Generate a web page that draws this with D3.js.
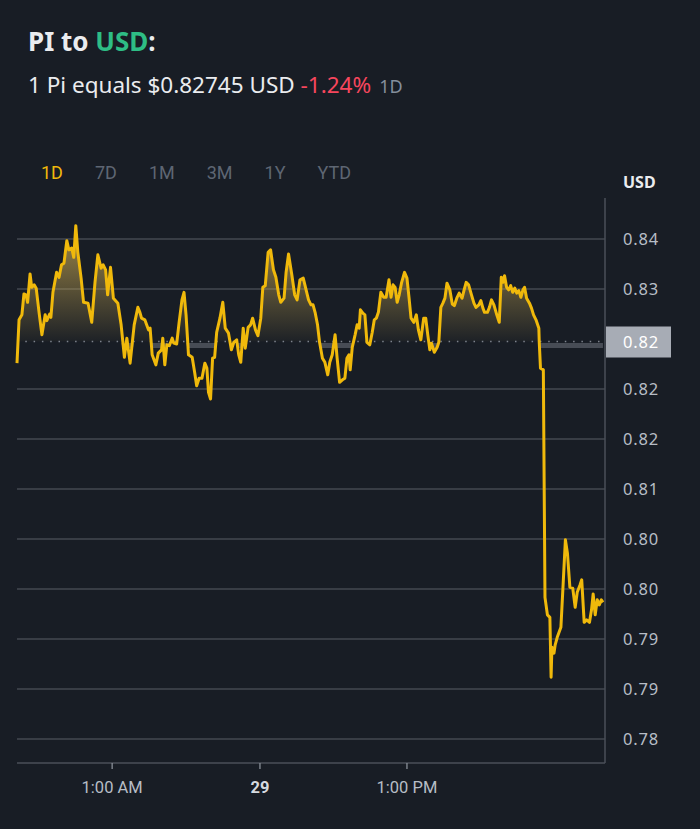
<!DOCTYPE html>
<meta charset="utf-8">
<script src="https://d3js.org/d3.v7.min.js"></script>
<style>
body { margin:0; background:#181d25; overflow:hidden; }
svg { display:block; font-family:'Noto Sans', sans-serif; }
</style>
<svg width="700" height="829"></svg>
<script>
// minutes since start of the 1D window, and PI price in USD
var minutes = [0,5,12,17,22,26,32,36,42,47,54,61,69,73,80,83,88,97,103,109,115,122,127,134,139,144,149,157,163,174,
  183,191,198,206,211,217,222,229,236,247,255,263,269,277,287,296,301,305,313,322,326,331,340,346,354,357,362,367,373,380,
  384,391,397,404,409,414,420,429,435,440,446,453,460,465,469,474,479,484,489,497,504,510,518,525,531,538,543,548,554,559,
  566,572,577,584,590,597,602,608,615,621,628,634,641,646,654,659,665,673,680,686,693,701,708,714,720,725,730,736,741,748,
  754,761,766,772,779,784,790,797,803,808,813,816,821,828,833,838,841,847,852,857,864,870,875,880,885,891,898,904,911,916,
  921,926,931,936,942,949,955,960,965,972,978,983,989,996,1001,1006,1011,1015,1022,1029,1033,1038,1043,1048,1053,1060,1066,1071,1077,1083,
  1090,1095,1100,1106,1113,1119,1124,1131,1136,1141,1145,1152,1157,1162,1168,1175,1181,1186,1190,1194,1199,1204,1209,1214,1219,1224,1229,1234,1239,1243,
  1248,1255,1260,1265,1271,1278,1279,1282,1289,1293,1299,1305,1308,1310,1315,1318,1323,1332,1338,1343,1348,1354,1361,1367,1372,1379,1383,1389,1395,1402,
  1407,1411,1416,1421,1426,1431,1435];
var prices = [0.8256,0.8308,0.8314,0.8339,0.8338,0.8329,0.8363,0.8347,0.8350,0.8346,0.8317,0.8290,0.8314,0.8307,0.8315,0.8311,0.8341,0.8365,0.8359,0.8374,0.8376,0.8403,0.8392,0.8394,0.8383,0.8421,0.8389,0.8358,0.8329,0.8328,
  0.8305,0.8353,0.8386,0.8370,0.8374,0.8368,0.8338,0.8371,0.8334,0.8328,0.8302,0.8263,0.8286,0.8256,0.8302,0.8323,0.8317,0.8310,0.8308,0.8296,0.8298,0.8266,0.8254,0.8268,0.8272,0.8286,0.8254,0.8278,0.8277,0.8286,
  0.8280,0.8279,0.8305,0.8332,0.8341,0.8314,0.8266,0.8263,0.8245,0.8229,0.8238,0.8238,0.8256,0.8250,0.8221,0.8213,0.8262,0.8263,0.8293,0.8310,0.8329,0.8298,0.8292,0.8272,0.8281,0.8284,0.8266,0.8257,0.8298,0.8274,
  0.8299,0.8302,0.8310,0.8296,0.8289,0.8310,0.8347,0.8349,0.8389,0.8392,0.8368,0.8359,0.8338,0.8329,0.8334,0.8365,0.8387,0.8362,0.8338,0.8332,0.8356,0.8358,0.8344,0.8332,0.8326,0.8326,0.8317,0.8302,0.8281,0.8262,
  0.8257,0.8242,0.8257,0.8266,0.8290,0.8262,0.8233,0.8236,0.8238,0.8262,0.8266,0.8248,0.8275,0.8290,0.8302,0.8298,0.8320,0.8316,0.8314,0.8281,0.8278,0.8293,0.8308,0.8310,0.8317,0.8341,0.8335,0.8335,0.8356,0.8335,
  0.8350,0.8347,0.8329,0.8338,0.8353,0.8365,0.8358,0.8335,0.8310,0.8305,0.8314,0.8296,0.8284,0.8310,0.8310,0.8290,0.8272,0.8280,0.8269,0.8275,0.8281,0.8323,0.8328,0.8334,0.8352,0.8344,0.8327,0.8325,0.8334,0.8340,
  0.8334,0.8344,0.8353,0.8350,0.8338,0.8328,0.8323,0.8326,0.8331,0.8322,0.8317,0.8317,0.8323,0.8332,0.8326,0.8314,0.8305,0.8359,0.8353,0.8361,0.8347,0.8344,0.8349,0.8341,0.8346,0.8340,0.8343,0.8335,0.8344,0.8347,
  0.8334,0.8328,0.8322,0.8314,0.8308,0.8298,0.8281,0.8250,0.8248,0.7975,0.7954,0.7951,0.7879,0.7915,0.7908,0.7918,0.7927,0.7939,0.7996,0.8044,0.8028,0.7987,0.7986,0.7963,0.7981,0.7990,0.7996,0.7945,0.7948,0.7945,
  0.7960,0.7979,0.7954,0.7972,0.7966,0.7972,0.7969];

var basePrice = 0.8282;
var baseLabel = "0.82";
var yTicks = [0.8405, 0.8345, 0.8225, 0.8165, 0.8105, 0.8045, 0.7985, 0.7925, 0.7865, 0.7805];
var yLabels = ["0.84", "0.83", "0.82", "0.82", "0.81", "0.80", "0.80", "0.79", "0.79", "0.78"];
var xTicks = [233, 595, 955];
var xLabels = ["1:00 AM", "29", "1:00 PM"];
var tabs = ["1D", "7D", "1M", "3M", "1Y", "YTD"];

var gold = '#f0b90b';
var gridColor = '#434851';
var labelColor = '#b7bdc6';

var data = minutes.map(function(m, i) { return {t: m, v: prices[i]} });

var svg = d3.select('svg');
var plotLeft = 17, plotRight = 605, plotTop = 198, plotBottom = 763;

var x = d3.scaleLinear().domain([0, 1440]).range([plotLeft, plotRight]);
var y = d3.scaleLinear().domain([0.7805, 0.8405]).range([739, 239]);
var yBase = y(basePrice);

// header
var title = svg.append('text').attr('x', 28).attr('y', 51)
    .attr('font-size', 26).attr('font-weight', 700).attr('fill', '#eaecef');
title.append('tspan').text('PI to ');
title.append('tspan').attr('fill', '#2ebd85').text('USD');
title.append('tspan').text(':');

var sub = svg.append('text').attr('x', 28).attr('y', 93)
    .attr('font-size', 22.5).attr('fill', '#eaecef');
sub.append('tspan').text('1 Pi equals $0.82745 USD ');
sub.append('tspan').attr('fill', '#f6465d').text('-1.24%');
sub.append('tspan').attr('fill', '#848e9c').attr('font-size', 18).attr('dx', 8).text('1D');

// range tabs
var tx = 41;
tabs.forEach(function(t, i) {
    var el = svg.append('text').attr('x', tx).attr('y', 179)
        .attr('font-family', 'Roboto').attr('font-size', 18)
        .attr('fill', i === 0 ? gold : '#5e6673').text(t);
    tx += el.node().getComputedTextLength() + 32;
});

svg.append('text').attr('x', 623).attr('y', 188)
    .attr('font-size', 16).attr('font-weight', 700).attr('fill', '#eaecef').text('USD');

// grid
svg.append('g').selectAll('line').data(yTicks).enter().append('line')
    .attr('x1', plotLeft).attr('x2', plotRight)
    .attr('y1', function(d) { return y(d) }).attr('y2', function(d) { return y(d) })
    .attr('stroke', gridColor).attr('stroke-width', 1.5);

// y labels
svg.append('g').selectAll('text').data(yTicks).enter().append('text')
    .attr('x', 623).attr('y', function(d) { return y(d) + 6 })
    .attr('font-size', 16.5).attr('letter-spacing', 0.8).attr('fill', labelColor)
    .text(function(d, i) { return yLabels[i] });

// area above the base price
var grad = svg.append('defs').append('linearGradient').attr('id', 'fillUp')
    .attr('gradientUnits', 'userSpaceOnUse')
    .attr('x1', 0).attr('x2', 0).attr('y1', y(0.8421)).attr('y2', yBase);
grad.append('stop').attr('offset', 0).attr('stop-color', 'rgb(215,180,85)').attr('stop-opacity', 0.72);
grad.append('stop').attr('offset', 1).attr('stop-color', 'rgb(215,180,85)').attr('stop-opacity', 0.03);

var areaUp = d3.area()
    .x(function(d) { return x(d.t) })
    .y0(yBase)
    .y1(function(d) { return Math.min(y(d.v), yBase) });
svg.append('path').datum(data).attr('d', areaUp).attr('fill', 'url(#fillUp)');

// thin gray band where price sits below the base
var areaDown = d3.area()
    .x(function(d) { return x(d.t) })
    .y0(yBase)
    .y1(function(d) { return Math.max(y(d.v), yBase) });
svg.select('defs').append('clipPath').attr('id', 'below')
    .append('path').datum(data).attr('d', areaDown);
svg.append('rect').attr('x', plotLeft).attr('width', plotRight - plotLeft)
    .attr('y', yBase + 1.5).attr('height', 5)
    .attr('fill', '#474c55').attr('clip-path', 'url(#below)');

// dotted base line
svg.append('line').attr('x1', plotLeft).attr('x2', plotRight)
    .attr('y1', yBase).attr('y2', yBase)
    .attr('stroke', '#7d838d').attr('stroke-width', 1.3).attr('stroke-dasharray', '1.5,6.8');

// price line
var line = d3.line().x(function(d) { return x(d.t) }).y(function(d) { return y(d.v) });
svg.append('path').datum(data).attr('d', line)
    .attr('fill', 'none').attr('stroke', gold).attr('stroke-width', 3)
    .attr('stroke-linejoin', 'round');

// axes frame
svg.append('line').attr('x1', plotRight).attr('x2', plotRight).attr('y1', plotTop).attr('y2', plotBottom)
    .attr('stroke', '#4a4f58').attr('stroke-width', 1.5);
svg.append('line').attr('x1', plotLeft).attr('x2', plotRight).attr('y1', plotBottom).attr('y2', plotBottom)
    .attr('stroke', '#4a4f58').attr('stroke-width', 1.5);

// highlighted base price label
svg.append('rect').attr('x', plotRight + 1).attr('y', yBase - 15).attr('width', 65).attr('height', 31)
    .attr('fill', '#a7acb5');
svg.append('text').attr('x', 623).attr('y', yBase + 6)
    .attr('font-size', 16.5).attr('letter-spacing', 0.8).attr('fill', '#ffffff').text(baseLabel);

// x ticks
var xt = svg.append('g').selectAll('g').data(xTicks).enter().append('g');
xt.append('line').attr('x1', function(d) { return x(d) }).attr('x2', function(d) { return x(d) })
    .attr('y1', plotBottom).attr('y2', plotBottom + 6).attr('stroke', '#8a9099').attr('stroke-width', 1.3);
xt.append('text').attr('x', function(d) { return x(d) }).attr('y', 793)
    .attr('text-anchor', 'middle').attr('font-family', 'Roboto').attr('font-size', 16.5)
    .attr('font-weight', function(d, i) { return xLabels[i] === '29' ? 700 : 400 })
    .attr('fill', function(d, i) { return xLabels[i] === '29' ? '#d5d9df' : labelColor })
    .text(function(d, i) { return xLabels[i] });
</script>
